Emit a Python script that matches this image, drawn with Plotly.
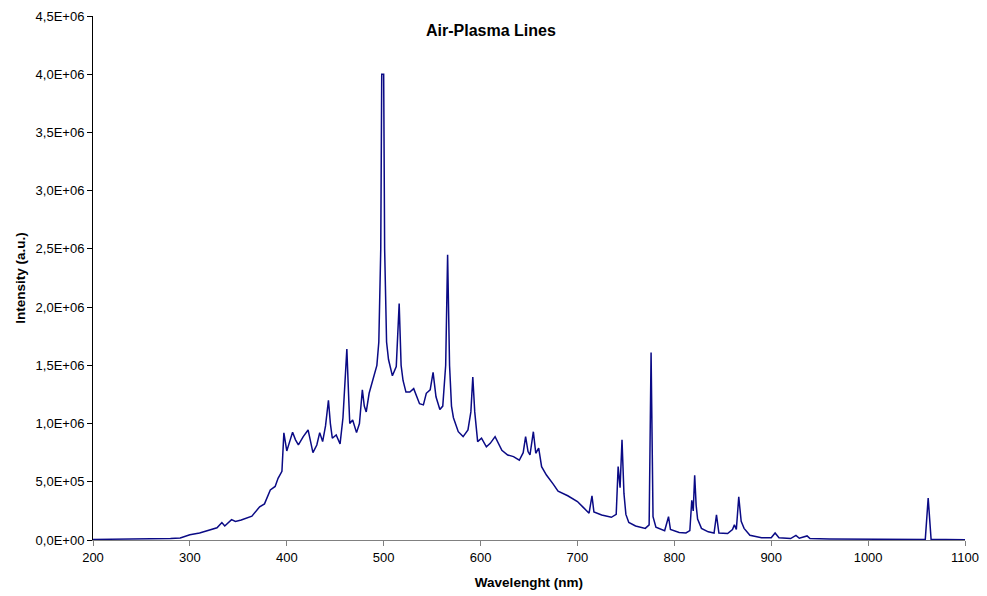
import plotly.graph_objects as go

wavelength = [200, 250, 280, 290, 300, 310, 320, 328, 333, 336, 343, 347, 353, 364, 372, 377, 383, 388, 391, 395,
              397, 400, 403, 406, 409, 412, 417, 422, 427, 431, 434, 437, 440, 443, 445, 447, 451, 455, 458, 460,
              462, 464, 465, 468, 472, 475, 478, 480, 482, 485, 489, 493, 495, 497, 498, 500, 501, 503, 505, 509,
              513, 516, 518, 520, 523, 527, 531, 537, 541, 544, 548, 551, 554, 558, 561, 564, 566, 568, 570, 572,
              577, 582, 587, 590, 592, 594, 597, 601, 606, 610, 615, 622, 628, 634, 640, 644, 646.5, 649, 651, 654.5,
              657, 660, 663, 668, 675, 680, 690, 700, 706, 712, 715, 717, 725, 735, 740, 742, 744, 746, 748, 750,
              753, 760, 770, 774, 776, 778, 781, 790, 794, 796, 805, 812, 816, 818, 819.5, 821, 822.5, 824, 828, 835,
              841, 843.5, 846, 855, 860, 862, 864, 866.5, 869, 872, 878, 890, 900, 904, 908, 920, 925.5, 929, 937, 940,
              960, 1000, 1050, 1059, 1062, 1065, 1080, 1100]
intensity = [5e3, 8e3, 12e3, 18e3, 45e3, 60e3, 85e3, 105e3, 150e3, 120e3, 175e3, 160e3, 172e3, 205e3, 285e3, 310e3, 430e3, 460e3, 530e3, 590e3,
             920e3, 765e3, 845e3, 925e3, 860e3, 816e3, 888e3, 945e3, 750e3, 816e3, 922e3, 845e3, 980e3, 1200e3, 1000e3, 874e3, 902e3, 825e3, 1050e3, 1350e3,
             1640e3, 1200e3, 1000e3, 1030e3, 922e3, 1000e3, 1290e3, 1150e3, 1100e3, 1260e3, 1370e3, 1500e3, 1700e3, 2500e3, 4000e3, 4000e3, 2500e3, 1700e3, 1550e3, 1410e3,
             1490e3, 2030e3, 1500e3, 1370e3, 1270e3, 1270e3, 1300e3, 1170e3, 1160e3, 1260e3, 1290e3, 1440e3, 1230e3, 1120e3, 1150e3, 1500e3, 2450e3, 1500e3, 1150e3, 1050e3,
             930e3, 888e3, 945e3, 1100e3, 1400e3, 1100e3, 845e3, 874e3, 800e3, 830e3, 888e3, 770e3, 730e3, 716e3, 685e3, 750e3, 888e3, 760e3, 730e3, 930e3,
             745e3, 788e3, 630e3, 558e3, 480e3, 420e3, 380e3, 330e3, 280e3, 230e3, 380e3, 240e3, 215e3, 195e3, 220e3, 630e3, 450e3, 860e3, 400e3, 220e3,
             150e3, 120e3, 100e3, 130e3, 1610e3, 200e3, 110e3, 80e3, 200e3, 90e3, 65e3, 60e3, 80e3, 340e3, 250e3, 555e3, 300e3, 180e3, 100e3, 70e3,
             60e3, 215e3, 60e3, 55e3, 90e3, 130e3, 90e3, 370e3, 160e3, 100e3, 40e3, 20e3, 20e3, 60e3, 20e3, 12e3, 40e3, 15e3, 35e3, 12e3,
             8e3, 6e3, 5e3, 5e3, 360e3, 5e3, 4e3, 3e3]

x_ticks = [200, 300, 400, 500, 600, 700, 800, 900, 1000, 1100]
y_ticks = [0, 0.5e6, 1.0e6, 1.5e6, 2.0e6, 2.5e6, 3.0e6, 3.5e6, 4.0e6, 4.5e6]
y_tick_labels = ["0,0E+00", "5,0E+05", "1,0E+06", "1,5E+06", "2,0E+06", "2,5E+06",
                 "3,0E+06", "3,5E+06", "4,0E+06", "4,5E+06"]

fig = go.Figure()
fig.add_trace(go.Scatter(x=wavelength, y=intensity, mode="lines",
                         line=dict(color="#0a0a85", width=1.5), showlegend=False))

font = "Liberation Sans, Arial, sans-serif"
fig.update_layout(
    width=987, height=596,
    margin=dict(l=93, r=22, t=16, b=56),
    paper_bgcolor="white", plot_bgcolor="white",
    font=dict(family=font, size=13, color="black"),
    xaxis=dict(range=[200, 1100], tickvals=x_ticks, ticktext=[str(v) for v in x_ticks],
               automargin=False,
               showgrid=False, zeroline=False, showline=True, linecolor="#808080", linewidth=1,
               ticks="outside", ticklen=5, tickcolor="#808080", tickfont=dict(size=13),
               title=dict(text="<b>Wavelenght (nm)</b>", font=dict(size=13.5), standoff=13)),
    yaxis=dict(range=[0, 4.5e6], tickvals=y_ticks, ticktext=y_tick_labels,
               automargin=False,
               showgrid=False, zeroline=False, showline=True, linecolor="black", linewidth=1,
               ticks="outside", ticklen=5, tickcolor="black", tickfont=dict(size=13),
               title=dict(text="<b>Intensity (a.u.)</b>", font=dict(size=13.5), standoff=6)),
    annotations=[dict(text="<b>Air-Plasma Lines</b>", xref="paper", yref="paper",
                      x=(491 - 93) / 872, y=1 - (31 - 16) / 524, xanchor="center", yanchor="middle",
                      showarrow=False, font=dict(size=16))],
)

fig.write_html("out.html")
